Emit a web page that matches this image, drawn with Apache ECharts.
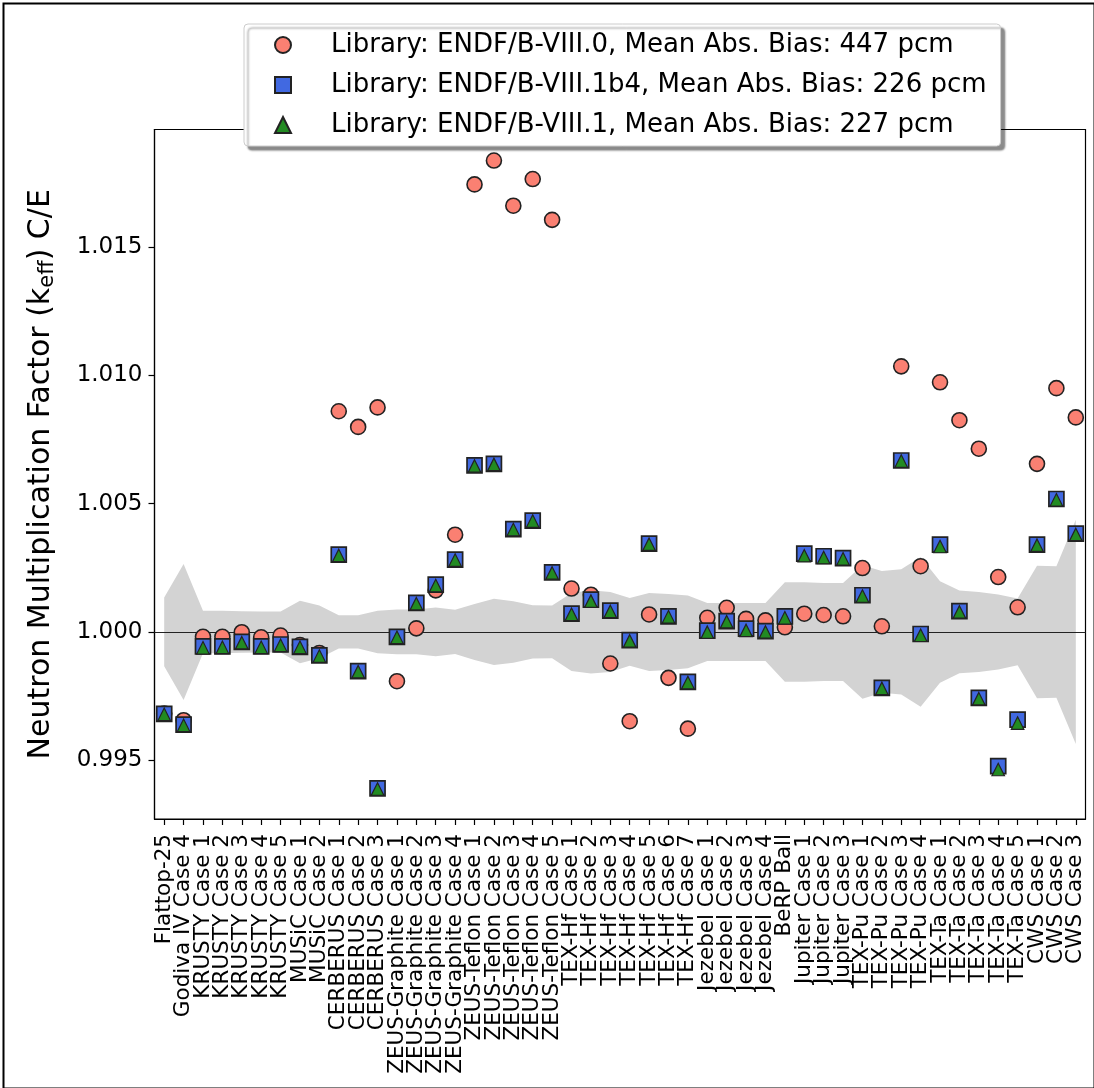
<!DOCTYPE html>
<html>
<head>
<meta charset="utf-8">
<script src="https://cdn.jsdelivr.net/npm/echarts@6/dist/echarts.min.js"></script>
<style>
html,body{margin:0;padding:0;background:#fff;}
#chart{width:1094px;height:1088px;}
</style>
</head>
<body>
<div id="chart"></div>
<script>
const categories = [
  'Flattop-25','Godiva IV Case 4',
  'KRUSTY Case 1','KRUSTY Case 2','KRUSTY Case 3','KRUSTY Case 4','KRUSTY Case 5',
  'MUSiC Case 1','MUSiC Case 2',
  'CERBERUS Case 1','CERBERUS Case 2','CERBERUS Case 3',
  'ZEUS-Graphite Case 1','ZEUS-Graphite Case 2','ZEUS-Graphite Case 3','ZEUS-Graphite Case 4',
  'ZEUS-Teflon Case 1','ZEUS-Teflon Case 2','ZEUS-Teflon Case 3','ZEUS-Teflon Case 4','ZEUS-Teflon Case 5',
  'TEX-Hf Case 1','TEX-Hf Case 2','TEX-Hf Case 3','TEX-Hf Case 4','TEX-Hf Case 5','TEX-Hf Case 6','TEX-Hf Case 7',
  'Jezebel Case 1','Jezebel Case 2','Jezebel Case 3','Jezebel Case 4',
  'BeRP Ball',
  'Jupiter Case 1','Jupiter Case 2','Jupiter Case 3',
  'TEX-Pu Case 1','TEX-Pu Case 2','TEX-Pu Case 3','TEX-Pu Case 4',
  'TEX-Ta Case 1','TEX-Ta Case 2','TEX-Ta Case 3','TEX-Ta Case 4','TEX-Ta Case 5',
  'CWS Case 1','CWS Case 2','CWS Case 3'
];

const seriesNames = [
  'Library: ENDF/B-VIII.0, Mean Abs. Bias: 447 pcm',
  'Library: ENDF/B-VIII.1b4, Mean Abs. Bias: 226 pcm',
  'Library: ENDF/B-VIII.1, Mean Abs. Bias: 227 pcm'
];

// ENDF/B-VIII.0 (circles)
const endf80 = [
  0.99682, 0.99656,
  0.99981, 0.99981, 0.99999, 0.99979, 0.99986,
  0.99949, 0.99918,
  1.00860, 1.00799, 1.00875,
  0.99808, 1.00014, 1.00162, 1.00379,
  1.01744, 1.01837, 1.01661, 1.01765, 1.01606,
  1.00169, 1.00145, 0.99877, 0.99652, 1.00068, 0.99821, 0.99623,
  1.00055, 1.00094, 1.00051, 1.00045,
  1.00018,
  1.00071, 1.00066, 1.00061,
  1.00249, 1.00022, 1.01035, 1.00256,
  1.00973, 1.00825, 1.00714, 1.00214, 1.00096,
  1.00655, 1.00950, 1.00836
];

// ENDF/B-VIII.1b4 (squares)
const endf81b4 = [
  0.99681, 0.99639,
  0.99944, 0.99944, 0.99961, 0.99944, 0.99951,
  0.99942, 0.99909,
  1.00301, 0.99847, 0.99390,
  0.99981, 1.00113, 1.00184, 1.00282,
  1.00649, 1.00655, 1.00401, 1.00434, 1.00232,
  1.00071, 1.00126, 1.00083, 0.99968, 1.00344, 1.00061, 0.99805,
  1.00005, 1.00042, 1.00013, 1.00003,
  1.00061,
  1.00305, 1.00295, 1.00288,
  1.00143, 0.99782, 1.00668, 0.99992,
  1.00340, 1.00081, 0.99743, 0.99477, 0.99658,
  1.00340, 1.00518, 1.00383
];

// ENDF/B-VIII.1 (triangles)
const endf81 = [
  0.99679, 0.99636,
  0.99938, 0.99940, 0.99958, 0.99940, 0.99948,
  0.99940, 0.99906,
  1.00298, 0.99845, 0.99388,
  0.99979, 1.00110, 1.00181, 1.00280,
  1.00647, 1.00653, 1.00399, 1.00432, 1.00230,
  1.00069, 1.00120, 1.00080, 0.99965, 1.00342, 1.00059, 0.99803,
  0.99999, 1.00040, 1.00006, 1.00000,
  1.00055,
  1.00297, 1.00290, 1.00285,
  1.00140, 0.99780, 1.00666, 0.99987,
  1.00333, 1.00078, 0.99740, 0.99464, 0.99645,
  1.00338, 1.00515, 1.00380
];

// experimental uncertainty band (upper / lower edges)
const bandUpper = [
  1.00134, 1.00265,
  1.00083, 1.00083, 1.00081, 1.00080, 1.00080,
  1.00122, 1.00103,
  1.00065, 1.00065, 1.00083,
  1.00087, 1.00087, 1.00095, 1.00086,
  1.00109, 1.00129, 1.00120, 1.00104, 1.00103,
  1.00152, 1.00162, 1.00156, 1.00132, 1.00152, 1.00148, 1.00142,
  1.00113, 1.00113, 1.00113, 1.00113,
  1.00194,
  1.00194, 1.00191, 1.00191,
  1.00260, 1.00237, 1.00244, 1.00292,
  1.00198, 1.00161, 1.00156, 1.00146, 1.00130,
  1.00258, 1.00256, 1.00437
];
const bandLower = [
  0.99866, 0.99735,
  0.99917, 0.99917, 0.99919, 0.99920, 0.99920,
  0.99878, 0.99897,
  0.99935, 0.99935, 0.99917,
  0.99913, 0.99913, 0.99905, 0.99914,
  0.99891, 0.99871, 0.99880, 0.99896, 0.99897,
  0.99848, 0.99838, 0.99844, 0.99868, 0.99848, 0.99852, 0.99858,
  0.99887, 0.99887, 0.99887, 0.99887,
  0.99806,
  0.99806, 0.99809, 0.99809,
  0.99740, 0.99763, 0.99756, 0.99708,
  0.99802, 0.99839, 0.99844, 0.99854, 0.99870,
  0.99742, 0.99744, 0.99563
];

const yTicks = [0.995, 1.000, 1.005, 1.010, 1.015];

const FONT = 'DejaVu Sans';
const chart = echarts.init(document.getElementById('chart'), null, {renderer: 'canvas'});

const mk = arr => arr.map((v, i) => [i, v]);

const option = {
  backgroundColor: '#ffffff',
  animation: false,
  textStyle: {fontFamily: FONT, color: '#000'},
  graphic: [{
    type: 'rect', left: 1, top: 1, z: 100, silent: true,
    shape: {width: 1091, height: 1085},
    style: {fill: 'none', stroke: '#000', lineWidth: 2}
  }],
  grid: {
    left: 154.5, right: 8.5, top: 129.5, bottom: 269,
    show: true, borderColor: '#000', borderWidth: 1.2, backgroundColor: 'transparent',
    containLabel: false
  },
  legend: {
    orient: 'vertical',
    left: 244, top: 24,
    padding: [6, 14, 6, 30],
    itemWidth: 16, itemHeight: 16, itemGap: 10,
    backgroundColor: '#ffffff',
    borderColor: '#cccccc', borderWidth: 1, borderRadius: 4,
    shadowColor: 'rgba(0,0,0,0.45)', shadowBlur: 2, shadowOffsetX: 4, shadowOffsetY: 4,
    textStyle: {fontFamily: FONT, fontSize: 26, color: '#000', lineHeight: 30, padding: [0, 0, 0, 35]},
    data: seriesNames,
    selectedMode: false
  },
  xAxis: {
    type: 'category', data: categories, boundaryGap: true,
    splitLine: {show: false},
    axisLine: {show: true, onZero: false, lineStyle: {color: '#000', width: 1.2}},
    axisTick: {show: true, length: 6, alignWithLabel: true, interval: 0, lineStyle: {color: '#000', width: 1.2}},
    axisLabel: {
      interval: 0, rotate: 90, margin: 15,
      fontFamily: FONT, fontSize: 21.5, color: '#000'
    }
  },
  yAxis: {
    type: 'value', min: 0.99271, max: 1.01958,
    splitLine: {show: false},
    axisLine: {show: true, onZero: false, lineStyle: {color: '#000', width: 1.2}},
    axisTick: {show: true, length: 6, lineStyle: {color: '#000', width: 1.2}, customValues: yTicks},
    axisLabel: {
      customValues: yTicks, margin: 12, showMinLabel: true, showMaxLabel: true,
      fontFamily: FONT, fontSize: 23, color: '#000',
      formatter: v => v.toFixed(3)
    },
    name: '{a|Neutron Multiplication Factor (k}{s|eff}{a|) C/E}',
    nameLocation: 'middle', nameRotate: 90, nameGap: 96,
    nameTextStyle: {
      rich: {
        a: {fontFamily: FONT, fontSize: 30, color: '#000', lineHeight: 34, verticalAlign: 'middle'},
        s: {fontFamily: FONT, fontSize: 21, color: '#000', lineHeight: 19, verticalAlign: 'bottom'}
      }
    }
  },
  series: [
    {
      type: 'custom', name: 'band', silent: true, z: 1, clip: true,
      data: categories.map((c, i) => [i, bandUpper[i], bandLower[i]]),
      encode: {x: 0, y: [1, 2]},
      renderItem: function (params, api) {
        if (params.dataIndex !== 0) return null;
        const pts = [];
        for (let i = 0; i < categories.length; i++) pts.push(api.coord([i, bandUpper[i]]));
        for (let i = categories.length - 1; i >= 0; i--) pts.push(api.coord([i, bandLower[i]]));
        return {type: 'polygon', shape: {points: pts}, style: {fill: '#d3d3d3', stroke: null}};
      },
      markLine: {
        silent: true, symbol: 'none', z: 2, animation: false,
        label: {show: false},
        lineStyle: {color: '#222', width: 1.1, type: 'solid'},
        data: [{yAxis: 1.0}]
      }
    },
    {
      type: 'scatter', name: seriesNames[0], z: 3,
      symbol: 'circle', symbolSize: 15,
      itemStyle: {color: '#FA8072', borderColor: '#222', borderWidth: 1.6, opacity: 1},
      data: mk(endf80)
    },
    {
      type: 'scatter', name: seriesNames[1], z: 4,
      symbol: 'rect', symbolSize: 15,
      itemStyle: {color: '#4169E1', borderColor: '#222', borderWidth: 1.7, opacity: 1},
      data: mk(endf81b4)
    },
    {
      type: 'scatter', name: seriesNames[2], z: 5,
      symbol: 'triangle', symbolSize: 12.5,
      itemStyle: {color: '#228B22', borderColor: '#222', borderWidth: 1.2, opacity: 1},
      data: mk(endf81)
    }
  ]
};
chart.setOption(option);
</script>
</body>
</html>
